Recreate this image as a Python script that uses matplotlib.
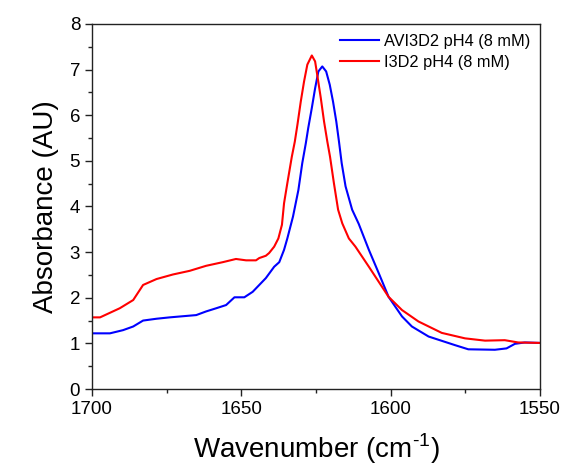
import matplotlib
matplotlib.use("Agg")
import matplotlib.pyplot as plt
from matplotlib.ticker import MultipleLocator

plt.rcParams['font.family'] = ['Liberation Sans', 'DejaVu Sans']

# AVI3D2 pH4 (8 mM) - blue
wn_blue = [1700, 1694, 1689.6, 1686.2, 1682.9, 1678.4, 1674, 1665.1, 1661.8, 1658.4,
           1655.1, 1652.3, 1649, 1646.2, 1641.8, 1639, 1637.3, 1635.7, 1634.6, 1632.7,
           1630.9, 1629.6, 1628.4, 1627.6, 1626.4, 1625.3, 1624.2, 1622.9, 1621.6, 1620.4,
           1619.3, 1618.2, 1617.3, 1616.4, 1615.1, 1612.9, 1610.7, 1607.3, 1604, 1600.7,
           1596.2, 1592.9, 1587.3, 1578.4, 1574, 1565.1, 1561.2, 1558.4, 1555.1, 1550]
ab_blue = [1.22, 1.22, 1.29, 1.37, 1.50, 1.54, 1.57, 1.62, 1.70, 1.77,
           1.84, 2.01, 2.01, 2.13, 2.43, 2.68, 2.78, 3.05, 3.30, 3.78,
           4.36, 4.95, 5.39, 5.72, 6.16, 6.59, 6.96, 7.07, 6.96, 6.67,
           6.30, 5.86, 5.42, 4.95, 4.44, 3.93, 3.62, 3.05, 2.54, 2.02,
           1.59, 1.37, 1.15, 0.96, 0.87, 0.86, 0.89, 0.99, 1.02, 1.01]

# I3D2 pH4 (8 mM) - red
wn_red = [1700, 1697.3, 1694, 1690.7, 1686.2, 1685.1, 1682.9, 1678.4, 1672.9, 1667.3,
          1661.8, 1656.2, 1651.8, 1648.4, 1645.1, 1644, 1641.8, 1640.7, 1639, 1637.6,
          1636.4, 1635.7, 1634.6, 1633.1, 1632.1, 1631.2, 1630.1, 1629, 1627.9, 1626.4,
          1625.3, 1624.6, 1623.4, 1622.3, 1621.2, 1620.3, 1619, 1617.6, 1616.2, 1614,
          1611.8, 1607.3, 1600.7, 1596.2, 1590.7, 1582.9, 1575.1, 1568.4, 1561.8, 1557.3,
          1550]
ab_red = [1.57, 1.57, 1.67, 1.77, 1.95, 2.06, 2.28, 2.41, 2.51, 2.59,
          2.70, 2.78, 2.85, 2.82, 2.82, 2.87, 2.92, 2.98, 3.12, 3.30,
          3.60, 4.07, 4.51, 5.09, 5.42, 5.80, 6.30, 6.74, 7.11, 7.31,
          7.18, 6.89, 6.38, 5.86, 5.42, 5.09, 4.51, 3.93, 3.63, 3.30,
          3.12, 2.68, 2.02, 1.73, 1.48, 1.23, 1.11, 1.06, 1.07, 1.02,
          1.01]

labels = ["AVI3D2 pH4 (8 mM)", "I3D2 pH4 (8 mM)"]

fig = plt.figure(figsize=(5.67, 4.74), dpi=100)
ax = fig.add_axes([92/567, 1-389/474, 448/567, 365/474])

ax.plot(wn_blue, ab_blue, color='#0000ff', lw=1.5, label=labels[0])
ax.plot(wn_red, ab_red, color='#ff0000', lw=1.5, label=labels[1])

ax.set_xlim(1700, 1550)
ax.set_ylim(0, 8)
ax.xaxis.set_major_locator(MultipleLocator(50))
ax.xaxis.set_minor_locator(MultipleLocator(25))
ax.yaxis.set_major_locator(MultipleLocator(1))
ax.yaxis.set_minor_locator(MultipleLocator(0.5))
ax.tick_params(which='both', direction='out', top=False, right=False,
               labelsize=13.5, width=1, color='#222222', labelcolor='black')
ax.tick_params(which='major', length=5)
ax.tick_params(which='minor', length=3)
for s in ax.spines.values():
    s.set_linewidth(1)
    s.set_color('#222222')

ax.set_xlabel('Wavenumber (cm$^{\\mathregular{\u2010}\\mathregular{1}}$)', fontsize=20, labelpad=10)
ax.set_ylabel('Absorbance (AU)', fontsize=20, labelpad=8)

ax.legend(loc='upper right', frameon=False, fontsize=11.8, handlelength=2.35,
          handletextpad=0.3, borderaxespad=0.2, labelspacing=0.35,
          bbox_to_anchor=(1.0, 1.0))

fig.savefig('out.png', dpi=100)
